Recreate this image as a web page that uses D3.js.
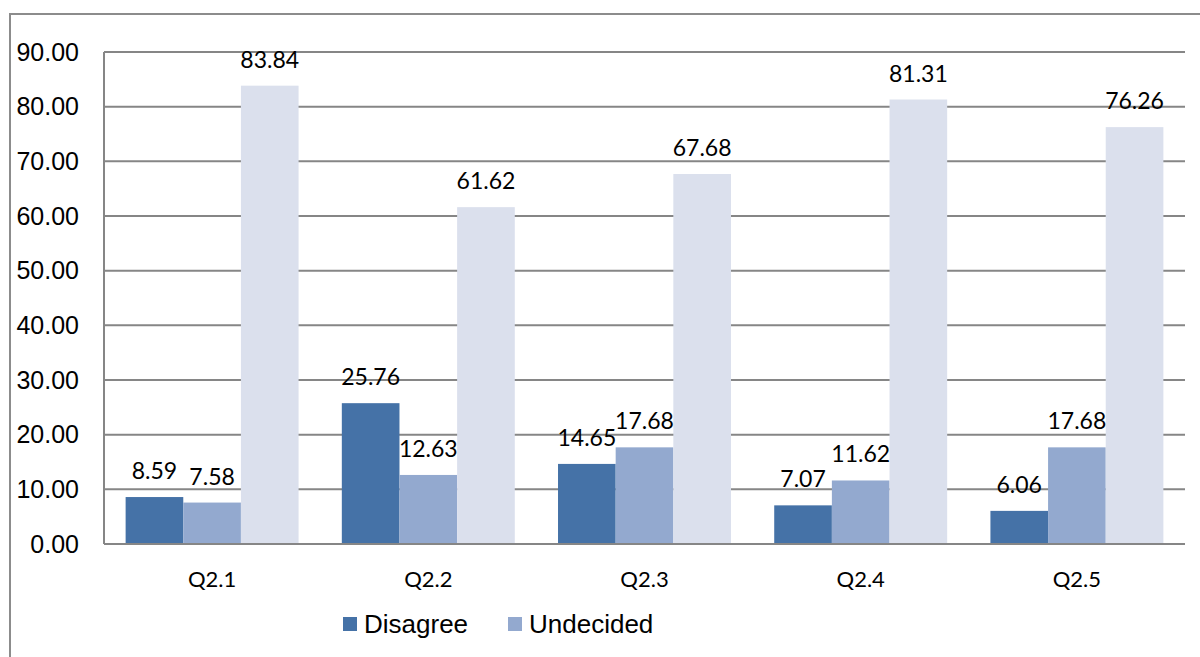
<!DOCTYPE html>
<html>
<head>
<meta charset="utf-8">
<script src="https://cdn.jsdelivr.net/npm/d3@7/dist/d3.min.js"></script>
<style>
  html, body { margin: 0; padding: 0; background: #fff; }
  svg { display: block; }
</style>
</head>
<body>
<svg id="chart" width="1200" height="657"></svg>
<script>
// Survey responses per question (percent)
const categories = ["Q2.1", "Q2.2", "Q2.3", "Q2.4", "Q2.5"];
const disagree = [8.59, 25.76, 14.65, 7.07, 6.06];
const undecided = [7.58, 12.63, 17.68, 11.62, 17.68];
const agree = [83.84, 61.62, 67.68, 81.31, 76.26];
const yTicks = [0, 10, 20, 30, 40, 50, 60, 70, 80, 90];

const seriesNames = ["Disagree", "Undecided", "Agree"];
const seriesValues = [disagree, undecided, agree];
const seriesColors = ["#4572A7", "#93A9CF", "#DBE0ED"];
const legendNames = ["Disagree", "Undecided"];

const svg = d3.select("#chart");
const plot = { left: 104, right: 1185, top: 52, bottom: 544 };

// Outer chart frame (left and top edges visible)
svg.append("path")
  .attr("d", "M10,660 L10,14 L1202,14")
  .attr("fill", "none")
  .attr("stroke", "#8C8C8C")
  .attr("stroke-width", 2);

const x0 = d3.scaleBand()
  .domain(categories)
  .range([plot.left, plot.right])
  .paddingInner(0.2)
  .paddingOuter(0.1);

const x1 = d3.scaleBand()
  .domain(seriesNames)
  .range([0, x0.bandwidth()]);

const y = d3.scaleLinear()
  .domain([0, 90])
  .range([plot.bottom, plot.top]);

// Horizontal gridlines
svg.append("g")
  .selectAll("line")
  .data(yTicks.filter(t => t > 0))
  .join("line")
  .attr("x1", plot.left)
  .attr("x2", plot.right)
  .attr("y1", d => y(d))
  .attr("y2", d => y(d))
  .attr("stroke", "#868686")
  .attr("stroke-width", 2);

// Y axis labels
const yAxis = svg.append("g")
  .attr("transform", `translate(${plot.left},0)`)
  .call(d3.axisLeft(y).tickValues(yTicks).tickFormat(d3.format(".2f")).tickSize(0).tickPadding(25));
yAxis.select(".domain").remove();
yAxis.selectAll("text")
  .attr("font-family", "'Liberation Sans', Arial, sans-serif")
  .attr("font-size", 25)
  .attr("fill", "#000");

// Bars
const groups = svg.append("g")
  .selectAll("g")
  .data(categories)
  .join("g")
  .attr("transform", d => `translate(${x0(d)},0)`);

groups.selectAll("rect")
  .data((c, i) => seriesNames.map((s, k) => ({ s, k, v: seriesValues[k][i] })))
  .join("rect")
  .attr("x", d => x1(d.s))
  .attr("width", x1.bandwidth())
  .attr("y", d => y(d.v))
  .attr("height", d => y(0) - y(d.v))
  .attr("fill", d => seriesColors[d.k]);

// Value labels
groups.selectAll("text")
  .data((c, i) => seriesNames.map((s, k) => ({ s, k, v: seriesValues[k][i] })))
  .join("text")
  .attr("x", d => x1(d.s) + x1.bandwidth() / 2)
  .attr("y", d => y(d.v) - 18)
  .attr("text-anchor", "middle")
  .attr("font-family", "Lato, 'Open Sans', sans-serif")
  .attr("font-size", 23)
  .attr("fill", "#000")
  .text(d => d3.format(".2f")(d.v));

// Axis lines
svg.append("line")
  .attr("x1", plot.left).attr("x2", plot.left)
  .attr("y1", plot.top).attr("y2", plot.bottom)
  .attr("stroke", "#868686").attr("stroke-width", 2);
svg.append("line")
  .attr("x1", plot.left).attr("x2", plot.right)
  .attr("y1", plot.bottom).attr("y2", plot.bottom)
  .attr("stroke", "#868686").attr("stroke-width", 2);

// Category labels
const xAxis = svg.append("g")
  .attr("transform", `translate(0,${plot.bottom})`)
  .call(d3.axisBottom(x0).tickSize(0).tickPadding(27));
xAxis.select(".domain").remove();
xAxis.selectAll("text")
  .attr("font-family", "Lato, 'Open Sans', sans-serif")
  .attr("font-size", 22)
  .attr("fill", "#000");

// Legend
const legendX = [343, 508];
const legend = svg.append("g")
  .selectAll("g")
  .data(legendNames)
  .join("g")
  .attr("transform", (d, i) => `translate(${legendX[i]},617)`);
legend.append("rect")
  .attr("width", 14).attr("height", 14)
  .attr("fill", (d, i) => seriesColors[i]);
legend.append("text")
  .attr("x", 21)
  .attr("y", 16)
  .attr("font-family", "'Liberation Sans', Arial, sans-serif")
  .attr("font-size", 26)
  .attr("fill", "#000")
  .text(d => d);
</script>
</body>
</html>
